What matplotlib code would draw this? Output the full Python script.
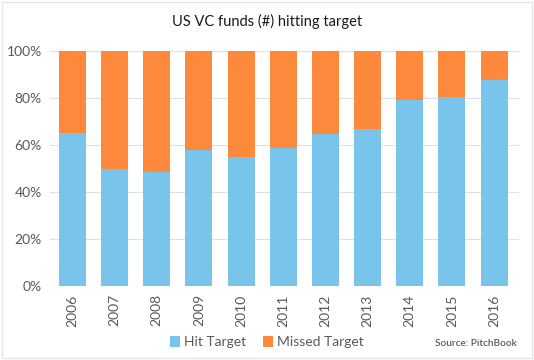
import matplotlib
matplotlib.use("Agg")
import matplotlib.pyplot as plt
from matplotlib.ticker import PercentFormatter
from matplotlib.patches import Rectangle

plt.rcParams['font.family'] = ['Lato', 'DejaVu Sans']

years = ['2006', '2007', '2008', '2009', '2010', '2011',
         '2012', '2013', '2014', '2015', '2016']
hit = [65, 50, 48.5, 58, 55, 58.6, 64.5, 66.7, 79, 80.3, 87.7]
missed = [100 - h for h in hit]

blue = '#78C4EA'
orange = '#FD8A3C'
grey = '#595959'

fig = plt.figure(figsize=(5.34, 3.6), dpi=100)
ax = fig.add_axes([0.0936, 0.2056, 0.8784, 0.6524])

x = range(len(years))
ax.bar(x, hit, width=0.64, color=blue, label='Hit Target', zorder=2)
ax.bar(x, missed, width=0.64, bottom=hit, color=orange, label='Missed Target', zorder=2)

ax.set_ylim(0, 100)
ax.set_xlim(-0.53, 10.59)
ax.set_yticks([0, 20, 40, 60, 80, 100])
ax.yaxis.set_major_formatter(PercentFormatter(decimals=0))
ax.set_xticks(list(x))
ax.set_xticklabels(years, rotation=90)
ax.grid(axis='y', color='#E0E0E0', linewidth=0.8, zorder=0)
for s in ax.spines.values():
    s.set_visible(False)
ax.tick_params(length=0, labelsize=10, colors=grey)
ax.tick_params(axis='y', pad=6)
ax.tick_params(axis='x', pad=6)

fig.text(0.5, 0.94, 'US VC funds (#) hitting target', ha='center', va='center',
         fontsize=10.5, color='#1a1a1a')

ax.legend(loc='center', bbox_to_anchor=(0.5, 0.05), bbox_transform=fig.transFigure,
          ncol=2, frameon=False, fontsize=10, handlelength=0.7, handleheight=0.9,
          handletextpad=0.3, columnspacing=1.2, labelcolor=grey)

fig.text(0.968, 0.045, 'Source: PitchBook', ha='right', va='center',
         fontsize=7.2, color=grey, fontweight='semibold')

fig.patches.append(Rectangle((0.003, 0.005), 0.994, 0.99, transform=fig.transFigure,
                             fill=False, edgecolor='#E6E6E6', linewidth=1))

fig.savefig('out.png', dpi=100)
